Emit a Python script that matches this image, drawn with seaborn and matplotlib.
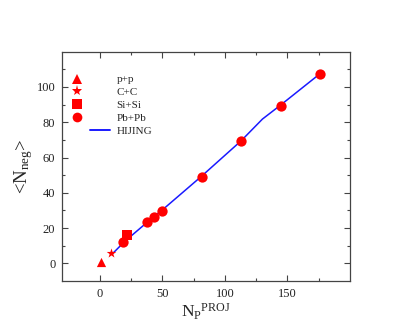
import numpy as np
import pandas as pd
import matplotlib
matplotlib.use("Agg")
import matplotlib.pyplot as plt
import seaborn as sns
from matplotlib.lines import Line2D
from matplotlib.legend_handler import HandlerLine2D
from matplotlib.ticker import FixedLocator

# ---- data ----
pp_x = [1.0]
pp_y = [0.6]
cc_x = [8.7]
cc_y = [6.0]
si_x = [22.0]
si_y = [16.3]
pb_x = [18.5, 37.4, 43.7, 49.8, 81.4, 113.0, 144.5, 176.0]
pb_y = [12.0, 23.4, 26.4, 29.8, 49.1, 69.4, 89.3, 107.1]
hij_x = [10.0, 20.0, 40.0, 50.0, 81.0, 113.0, 130.0, 145.0, 176.0]
hij_y = [5.4, 12.5, 24.6, 30.3, 49.2, 69.5, 81.8, 90.0, 107.5]
labels = ["p+p", "C+C", "Si+Si", "Pb+Pb", "HIJING"]
x_major = [0, 50, 100, 150]
x_minor = [25, 75, 125, 175]
y_major = [0, 20, 40, 60, 80, 100]
y_minor = [10, 30, 50, 70, 90, 110]

sns.set_style("ticks")
plt.rcParams["font.family"] = ["Liberation Serif", "DejaVu Serif"]
plt.rcParams["mathtext.fontset"] = "custom"
plt.rcParams["mathtext.rm"] = "Liberation Serif"
plt.rcParams["mathtext.it"] = "Liberation Serif:italic"

fig = plt.figure(figsize=(4.14, 3.32), dpi=100)
ax = fig.add_axes([0.1505, 0.1536, 0.6949, 0.6907])

red = "#ff0000"
blue = "#1a1aff"

sns.lineplot(x=hij_x, y=hij_y, ax=ax, color=blue, lw=1.1, zorder=2)
ms = 44
sns.scatterplot(x=pp_x, y=pp_y, ax=ax, marker="^", color=red, s=ms, linewidth=0, zorder=3)
sns.scatterplot(x=cc_x, y=cc_y, ax=ax, marker="*", color=red, s=ms * 1.2, linewidth=0, zorder=3)
sns.scatterplot(x=si_x, y=si_y, ax=ax, marker="s", color=red, s=ms, linewidth=0, zorder=3)
sns.scatterplot(x=pb_x, y=pb_y, ax=ax, marker="o", color=red, s=ms * 1.25, linewidth=0, zorder=3)

ax.set_xlim(-30, 200)
ax.set_ylim(-10, 120)
ax.xaxis.set_major_locator(FixedLocator(x_major))
ax.xaxis.set_minor_locator(FixedLocator(x_minor))
ax.yaxis.set_major_locator(FixedLocator(y_major))
ax.yaxis.set_minor_locator(FixedLocator(y_minor))
ax.tick_params(which="both", direction="in", top=True, right=True, color="#444444", width=0.8)
ax.tick_params(which="major", length=4, labelsize=9, labelcolor="#222222", pad=5)
ax.tick_params(which="minor", length=2.2)
for sp in ax.spines.values():
    sp.set_color("#444444")
    sp.set_linewidth(0.9)

ax.set_xlabel(r"${\mathrm{N_P}}^{\mathrm{PROJ}}$", fontsize=12.5, labelpad=1)
ax.set_ylabel(r"<$\mathrm{N_{neg}}$>", fontsize=13.5, labelpad=1)


class ShiftHandler(HandlerLine2D):
    def __init__(self, shift=0.0, **kw):
        super().__init__(**kw)
        self.shift = shift

    def get_xdata(self, legend, xdescent, ydescent, width, height, fontsize):
        xd, xm = super().get_xdata(legend, xdescent, ydescent, width, height, fontsize)
        s = self.shift * fontsize
        return [x - s for x in xd], [x - s for x in xm]


h_pp = Line2D([], [], ls="none", marker="^", color=red, ms=7, mew=0)
h_cc = Line2D([], [], ls="none", marker="*", color=red, ms=8, mew=0)
h_si = Line2D([], [], ls="none", marker="s", color=red, ms=6.5, mew=0)
h_pb = Line2D([], [], ls="none", marker="o", color=red, ms=7, mew=0)
h_hj = Line2D([], [], color=blue, lw=1.4)
sh = ShiftHandler(shift=2.1)
ax.legend([h_pp, h_cc, h_si, h_pb, h_hj], labels,
          handler_map={h_pp: sh, h_cc: sh, h_si: sh, h_pb: sh},
          loc="upper left", bbox_to_anchor=(0.096, 0.9), borderaxespad=0,
          borderpad=0, frameon=False, fontsize=8, handlelength=1.85,
          handletextpad=0.55, labelspacing=0.28, numpoints=1)

fig.savefig("out.png", dpi=100)
